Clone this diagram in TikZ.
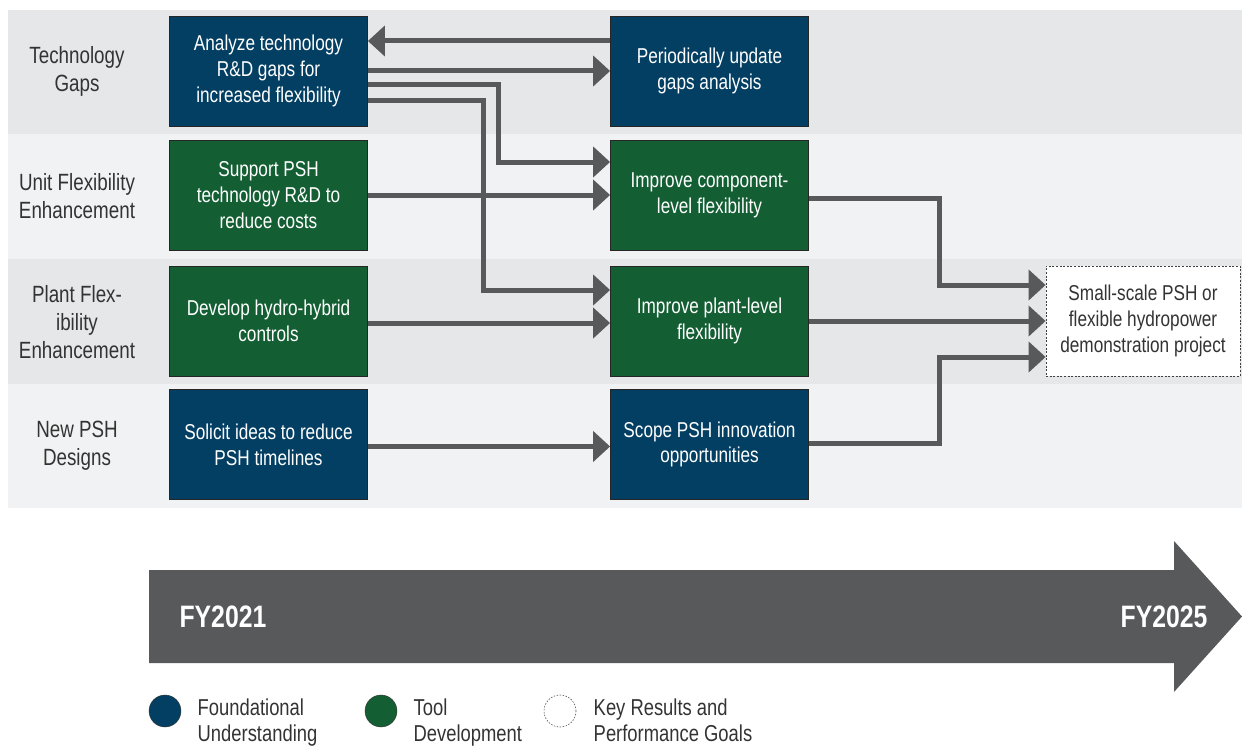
\documentclass[tikz,border=0pt]{standalone}
\usepackage{fontspec}
\setmainfont[FakeStretch=0.8]{Liberation Sans}
\usetikzlibrary{arrows.meta,positioning}
\definecolor{bandA}{HTML}{E6E7E8}
\definecolor{bandB}{HTML}{F1F2F3}
\definecolor{fblue}{HTML}{033F63}
\definecolor{tgreen}{HTML}{135F33}
\definecolor{flowgray}{HTML}{58595B}
\definecolor{labelgray}{HTML}{333333}
\tikzset{
  task/.style={draw=black!85, line width=0.8pt, minimum width=198pt,
    minimum height=110pt, inner sep=0pt, align=center, text=white,
    font=\fontsize{21.5}{25.8}\selectfont},
  found/.style={task, fill=fblue},
  tool/.style={task, fill=tgreen},
  goal/.style={task, draw=black!75, dash pattern=on 2pt off 1.6pt,
    fill=white, text=labelgray, minimum width=194pt},
  rowlabel/.style={align=center, text=labelgray, inner sep=0pt,
    font=\fontsize{23.5}{28}\selectfont},
  flow/.style={draw=flowgray, line width=5pt,
    -{Triangle[length=17pt,width=30pt]}},
  legdot/.style={circle, minimum size=32pt, inner sep=0pt, draw=black!80},
  legtext/.style={align=left, text=labelgray, inner sep=0pt,
    font=\fontsize{23}{26.5}\selectfont}
}
\begin{document}
\begin{tikzpicture}[x=1pt,y=-1pt]
\useasboundingbox (0,0) rectangle (1242,749);
% row bands
\foreach \top/\bot/\c in {10/134/bandA,134/259/bandB,259/384/bandA,384/508/bandB}
  \fill[\c] (8,\top) rectangle (1242,\bot);
\node[rowlabel] (lab1) at (77,71) {Technology\\Gaps};
\node[rowlabel] (lab2) at (77,196) {Unit Flexibility\\Enhancement};
\node[rowlabel] (lab3) at (77,322) {Plant Flex-\\ibility\\Enhancement};
\node[rowlabel] (lab4) at (77,446) {New PSH\\Designs};
% first column
\node[found] (ana) at (268.5,71) {Analyze technology\\R\&D gaps for\\increased flexibility};
\node[tool] (sup) at (268.5,195) {Support PSH\\technology R\&D to\\reduce costs};
\node[tool] (dev) at (268.5,321) {Develop hydro-hybrid\\controls};
\node[found] (sol) at (268.5,444.5) {Solicit ideas to reduce\\PSH timelines};
% second column
\node[found] (upd) at (709.5,71) {Periodically update\\gaps analysis};
\node[tool] (comp) at (709.5,195) {Improve component-\\level flexibility};
\node[tool] (plant) at (709.5,321) {Improve plant-level\\flexibility};
\node[found] (scope) at (709.5,444.5) {Scope PSH innovation\\opportunities};
% key result
\node[goal] (key) at (1143,321) {Small-scale PSH or\\flexible hydropower\\demonstration project};
% connectors
\draw[flow] ([yshift=30pt]upd.west) -- ([yshift=30pt]ana.east);
\draw[flow] (ana.east) -- (upd.west);
\draw[flow] ([yshift=-14pt]ana.east) -- ++(131,0) |- ([yshift=33pt]comp.west);
\draw[flow] ([yshift=-30pt]ana.east) -- ++(116,0) |- ([yshift=31pt]plant.west);
\draw[flow] (sup.east) -- (comp.west);
\draw[flow] ([yshift=-2pt]dev.east) -- ([yshift=-2pt]plant.west);
\draw[flow] ([yshift=-2pt]sol.east) -- ([yshift=-2pt]scope.west);
\draw[flow] ([yshift=-3pt]comp.east) -- ++(131,0) |- ([yshift=36pt]key.west);
\draw[flow] (plant.east) -- (key.west);
\draw[flow] ([yshift=1pt]scope.east) -- ++(131,0) |- ([yshift=-36pt]key.west);
% timeline arrow
\fill[flowgray] (149,570) -- (1174,570) -- (1174,541) -- (1242,616.5)
  -- (1174,692) -- (1174,663) -- (149,663) -- cycle;
\node[anchor=west, text=white, font=\fontsize{31}{31}\selectfont\bfseries] (fy1) at (176,616.5) {FY2021};
\node[anchor=east, text=white, font=\fontsize{31}{31}\selectfont\bfseries] (fy2) at (1211,616.5) {FY2025};
% legend
\node[legdot, fill=fblue] (d1) at (165,711) {};
\node[legdot, fill=tgreen] (d2) at (381,711) {};
\node[legdot, draw=black!70, line width=0.6pt, dash pattern=on 1.5pt off 1.5pt] (d3) at (560,711) {};
\node[legtext, anchor=north west] (t1) at ([xshift=21pt,yshift=1pt]d1.north east) {Foundational\\Understanding};
\node[legtext, anchor=north west] (t2) at ([xshift=21pt,yshift=1pt]d2.north east) {Tool\\Development};
\node[legtext, anchor=north west] (t3) at ([xshift=22pt,yshift=1pt]d3.north east) {Key Results and\\Performance Goals};
\end{tikzpicture}
\end{document}
